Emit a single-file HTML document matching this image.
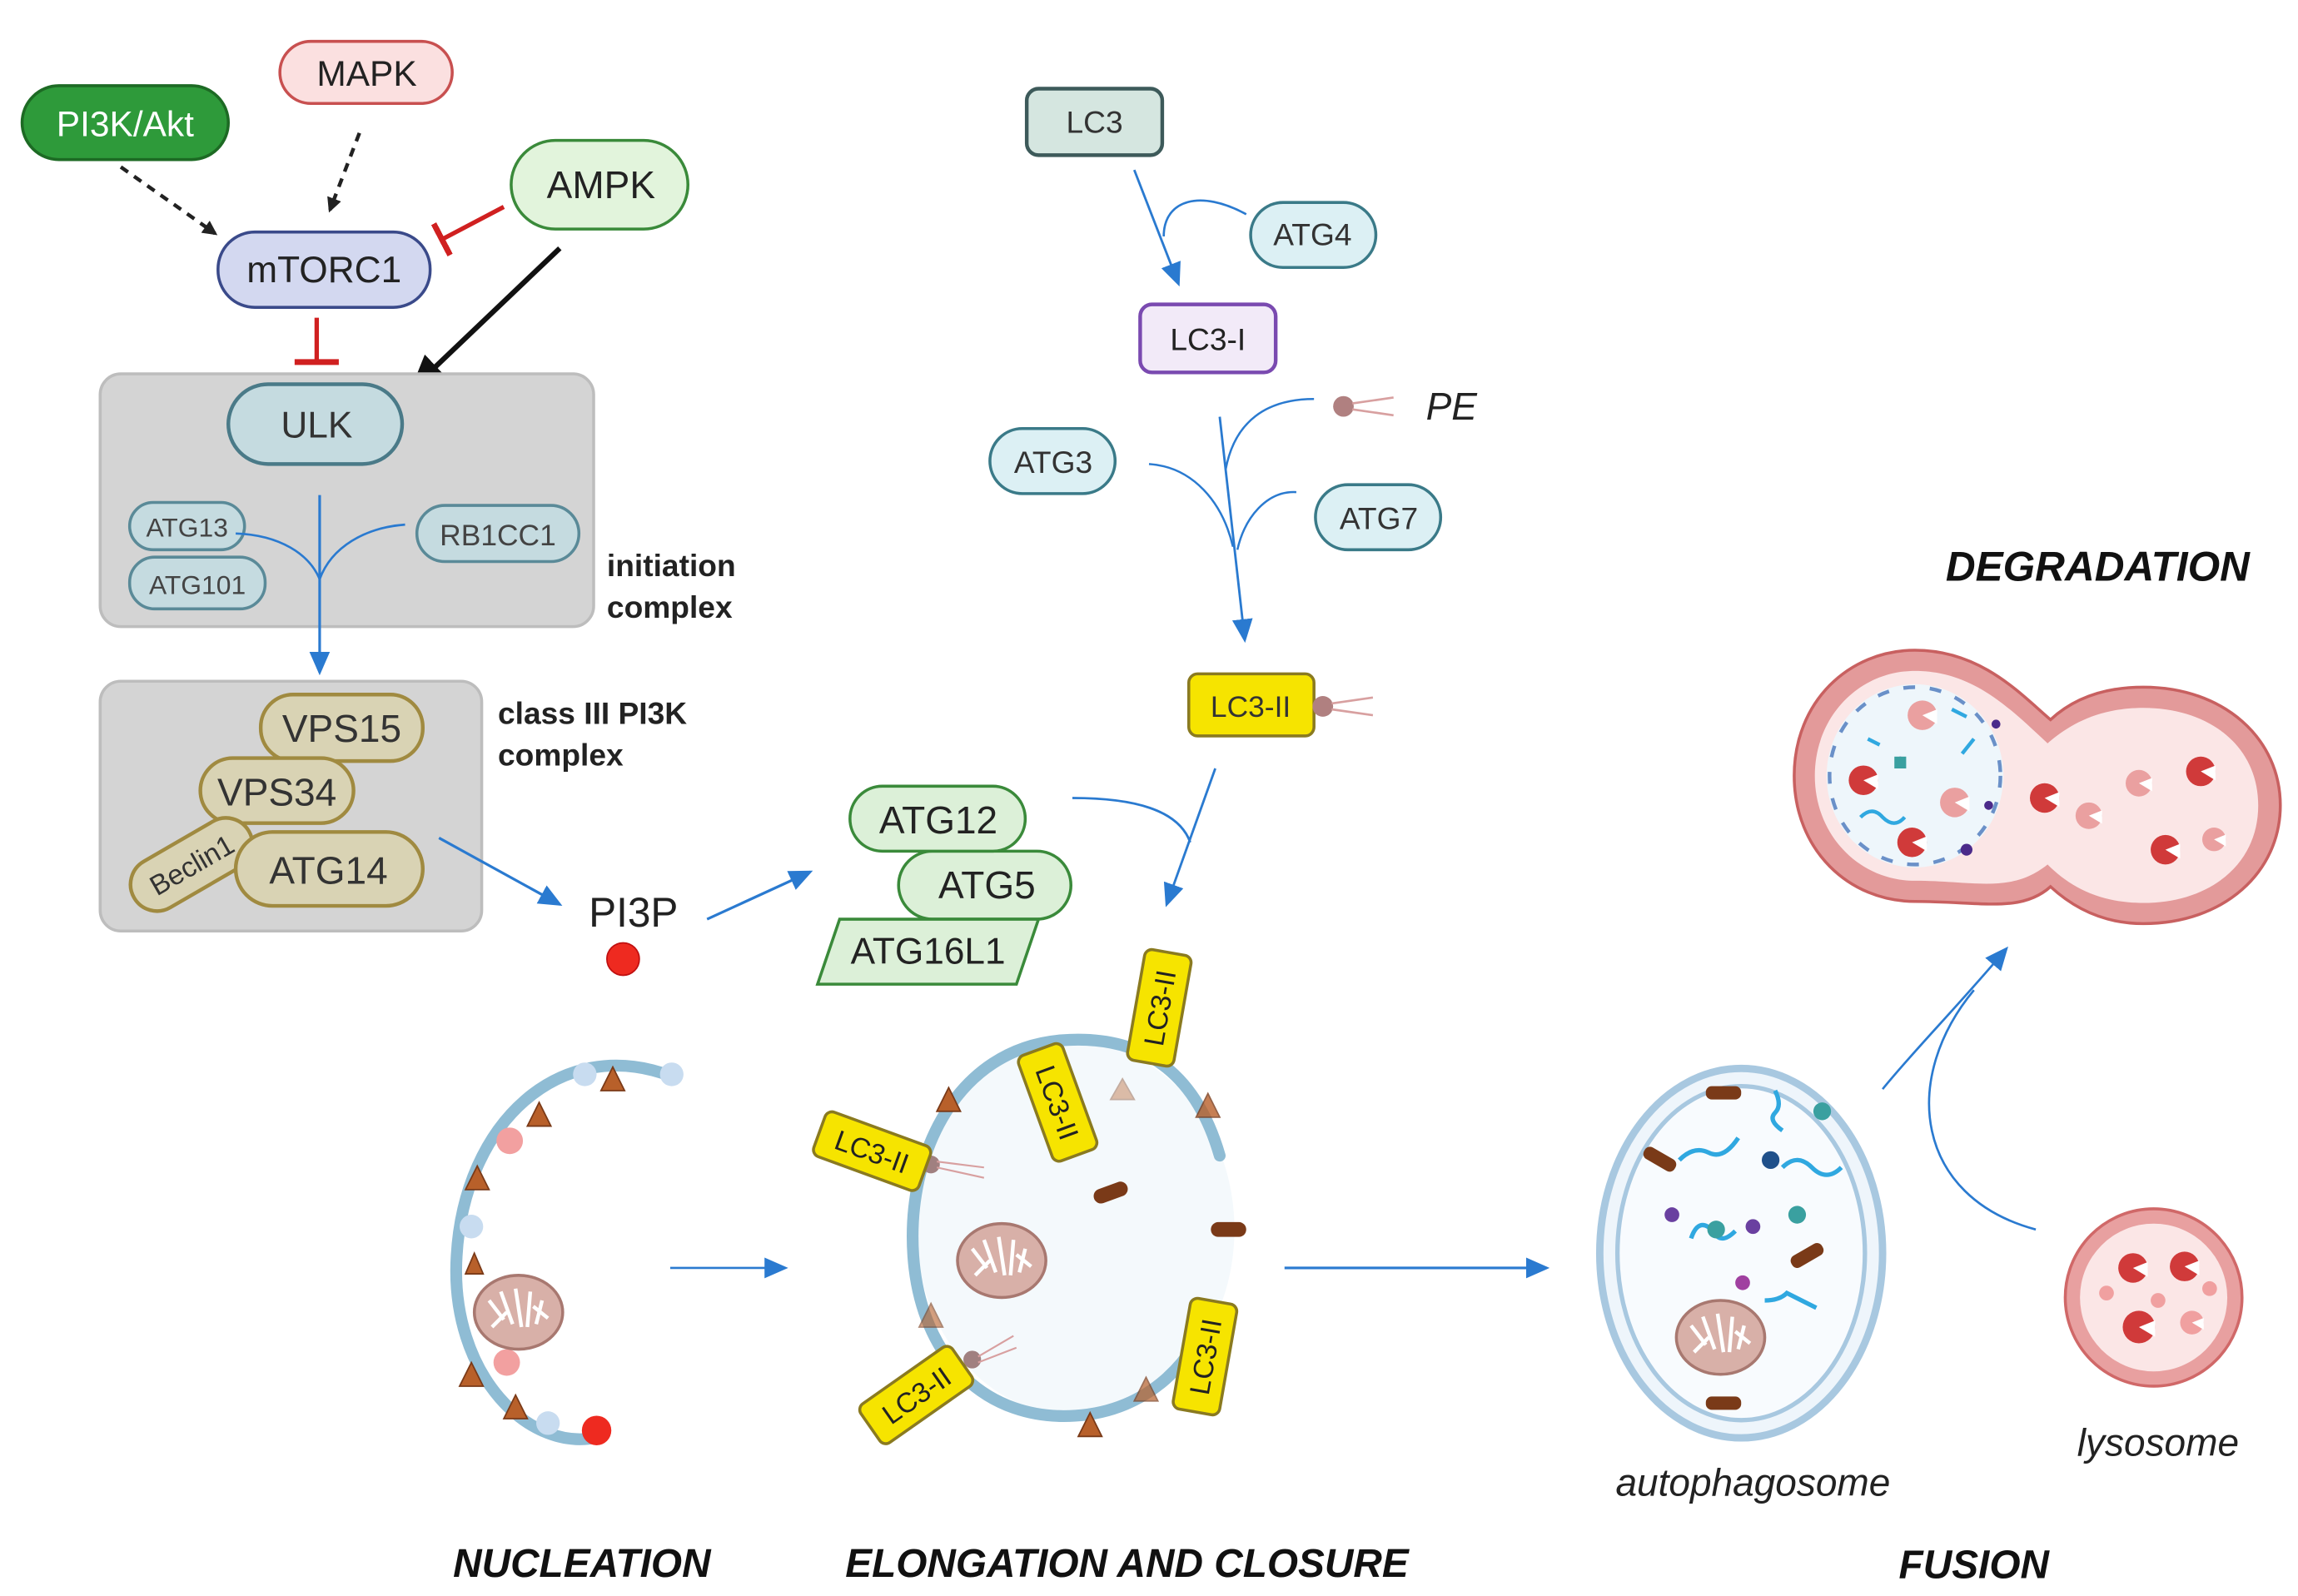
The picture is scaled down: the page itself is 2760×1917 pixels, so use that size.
<!DOCTYPE html>
<html><head><meta charset="utf-8">
<style>
html,body{margin:0;padding:0;background:#fff;}
svg{display:block;}
text{font-family:"Liberation Sans",sans-serif;}
</style></head>
<body>
<svg width="2760" height="1917" viewBox="0 0 1560 1080" preserveAspectRatio="none" xmlns="http://www.w3.org/2000/svg">
<defs>
<marker id="bk" markerWidth="10" markerHeight="10" refX="8" refY="5" orient="auto" markerUnits="userSpaceOnUse"><path d="M0,0 L10,5 L0,10z" fill="#222"/></marker>
<marker id="bkb" markerWidth="26" markerHeight="22" refX="22" refY="11" orient="auto" markerUnits="userSpaceOnUse"><path d="M0,0 L24,11 L0,22z" fill="#111"/></marker>
<marker id="bl" markerWidth="16" markerHeight="14" refX="14" refY="7" orient="auto" markerUnits="userSpaceOnUse"><path d="M0,0 L16,7 L0,14z" fill="#2a7ad0"/></marker>
<marker id="tb" markerWidth="4" markerHeight="24" refX="2" refY="12" orient="auto" markerUnits="userSpaceOnUse"><rect x="0" y="0" width="4" height="24" fill="#d02020"/></marker>
<g id="mito"><ellipse cx="0" cy="0" rx="30" ry="25" fill="#d8b0a8" stroke="#a87870" stroke-width="2"/><path d="M-20,-8 L-10,5 M-12,-14 L-4,8 M-2,-16 L2,10 M8,-14 L6,10 M16,-8 L12,8 M-18,10 L-8,0 M20,4 L10,-4" stroke="#fff" stroke-width="2.5"/></g>
<g id="enz"><circle r="10"/><path d="M0,0 L10,-4 L10,6z" fill="#fff"/></g>
</defs>

<rect x="190" y="28" width="117" height="42" rx="21" fill="#fbe0e0" stroke="#c85050" stroke-width="2"/>
<text x="249" y="58" font-size="24" text-anchor="middle" fill="#222">MAPK</text>
<rect x="15" y="58" width="140" height="50" rx="25" fill="#2e9a3a" stroke="#1d6a24" stroke-width="2"/>
<text x="85" y="92" font-size="24" text-anchor="middle" fill="#fff">PI3K/Akt</text>
<rect x="347" y="95" width="120" height="60" rx="30" fill="#e2f4dc" stroke="#3a8a3a" stroke-width="2"/>
<text x="408" y="134" font-size="26" text-anchor="middle" fill="#222">AMPK</text>
<rect x="148" y="157" width="144" height="51" rx="25" fill="#d3d8f0" stroke="#3a4a8a" stroke-width="2"/>
<text x="220" y="191" font-size="25" text-anchor="middle" fill="#222">mTORC1</text>
<line x1="82" y1="113" x2="146" y2="158" stroke="#222" stroke-width="2.5" stroke-dasharray="6,5" marker-end="url(#bk)"/>
<line x1="244" y1="90" x2="224" y2="142" stroke="#222" stroke-width="2.5" stroke-dasharray="6,5" marker-end="url(#bk)"/>
<line x1="342" y1="140" x2="300" y2="162" stroke="#d02020" stroke-width="3" marker-end="url(#tb)"/>
<line x1="215" y1="215" x2="215" y2="245" stroke="#d02020" stroke-width="3"/>
<line x1="200" y1="245" x2="230" y2="245" stroke="#d02020" stroke-width="4"/>
<line x1="380" y1="168" x2="280" y2="263" stroke="#111" stroke-width="3.5" marker-end="url(#bkb)"/>

<rect x="68" y="253" width="335" height="171" rx="14" fill="#d4d4d4" stroke="#bdbdbd" stroke-width="2"/>
<rect x="155" y="260" width="118" height="54" rx="27" fill="#c5dbe0" stroke="#4a7a88" stroke-width="2.5"/>
<text x="215" y="296" font-size="25" text-anchor="middle" fill="#333">ULK</text>
<rect x="88" y="340" width="78" height="32" rx="16" fill="#c5dbe0" stroke="#5a8a98" stroke-width="2"/>
<text x="127" y="363" font-size="18" text-anchor="middle" fill="#444">ATG13</text>
<rect x="88" y="377" width="92" height="35" rx="17" fill="#c5dbe0" stroke="#5a8a98" stroke-width="2"/>
<text x="134" y="402" font-size="18" text-anchor="middle" fill="#444">ATG101</text>
<rect x="283" y="342" width="110" height="38" rx="19" fill="#c5dbe0" stroke="#5a8a98" stroke-width="2"/>
<text x="338" y="369" font-size="20" text-anchor="middle" fill="#444">RB1CC1</text>
<line x1="217" y1="335" x2="217" y2="455" stroke="#2a7ad0" stroke-width="1.8" marker-end="url(#bl)"/>
<path d="M160,361 C190,362 210,375 217,392" fill="none" stroke="#2a7ad0" stroke-width="1.5"/>
<path d="M275,355 C248,357 225,370 217,392" fill="none" stroke="#2a7ad0" stroke-width="1.5"/>
<text x="412" y="390" font-size="21" font-weight="bold" fill="#222">initiation</text>
<text x="412" y="418" font-size="21" font-weight="bold" fill="#222">complex</text>

<rect x="68" y="461" width="259" height="169" rx="14" fill="#d4d4d4" stroke="#bdbdbd" stroke-width="2"/>
<rect x="177" y="470" width="110" height="45" rx="22" fill="#d9d3b4" stroke="#a08a40" stroke-width="2.5"/>
<text x="232" y="502" font-size="26" text-anchor="middle" fill="#333">VPS15</text>
<rect x="136" y="513" width="104" height="44" rx="22" fill="#d9d3b4" stroke="#a08a40" stroke-width="2.5"/>
<text x="188" y="545" font-size="26" text-anchor="middle" fill="#333">VPS34</text>
<g transform="translate(130,585) rotate(-30)">
<rect x="-45" y="-18" width="90" height="36" rx="18" fill="#d9d3b4" stroke="#a08a40" stroke-width="2.5"/>
<text x="0" y="7" font-size="19" text-anchor="middle" fill="#333">Beclin1</text></g>
<rect x="160" y="563" width="127" height="50" rx="25" fill="#d9d3b4" stroke="#a08a40" stroke-width="2.5"/>
<text x="223" y="598" font-size="26" text-anchor="middle" fill="#333">ATG14</text>
<text x="338" y="490" font-size="21" font-weight="bold" fill="#222">class III PI3K</text>
<text x="338" y="518" font-size="21" font-weight="bold" fill="#222">complex</text>

<line x1="298" y1="567" x2="380" y2="612" stroke="#2a7ad0" stroke-width="1.8" marker-end="url(#bl)"/>
<text x="430" y="627" font-size="28" text-anchor="middle" fill="#222">PI3P</text>
<circle cx="423" cy="649" r="11" fill="#ee2a20" stroke="#c01010" stroke-width="1"/>
<line x1="480" y1="622" x2="550" y2="590" stroke="#2a7ad0" stroke-width="1.8" marker-end="url(#bl)"/>

<rect x="610" y="576" width="117" height="46" rx="23" fill="#dcf0d8" stroke="#3a8a3a" stroke-width="2"/>
<rect x="577" y="532" width="119" height="44" rx="22" fill="#dcf0d8" stroke="#3a8a3a" stroke-width="2"/>
<text x="637" y="564" font-size="26" text-anchor="middle" fill="#222">ATG12</text>
<text x="670" y="608" font-size="26" text-anchor="middle" fill="#222">ATG5</text>
<polygon points="570,622 705,622 690,666 555,666" fill="#dcf0d8" stroke="#3a8a3a" stroke-width="2"/>
<text x="630" y="652" font-size="25" text-anchor="middle" fill="#222">ATG16L1</text>
<path d="M728,540 C770,540 800,548 808,570" fill="none" stroke="#2a7ad0" stroke-width="1.6"/>
<line x1="825" y1="520" x2="792" y2="612" stroke="#2a7ad0" stroke-width="1.6" marker-end="url(#bl)"/>

<rect x="697" y="60" width="92" height="45" rx="8" fill="#d5e6e0" stroke="#3d5a5a" stroke-width="2.5"/>
<text x="743" y="90" font-size="21" text-anchor="middle" fill="#333">LC3</text>
<line x1="770" y1="115" x2="800" y2="192" stroke="#2a7ad0" stroke-width="1.6" marker-end="url(#bl)"/>
<path d="M846,145 C815,128 790,135 790,160" fill="none" stroke="#2a7ad0" stroke-width="1.5"/>
<rect x="849" y="137" width="85" height="44" rx="22" fill="#dcf0f4" stroke="#3a7a88" stroke-width="2"/>
<text x="891" y="166" font-size="21" text-anchor="middle" fill="#333">ATG4</text>
<rect x="774" y="206" width="92" height="46" rx="8" fill="#f2eaf8" stroke="#7a4ab0" stroke-width="2.5"/>
<text x="820" y="237" font-size="21" text-anchor="middle" fill="#222">LC3-I</text>
<circle cx="912" cy="275" r="7" fill="#b08080"/>
<path d="M918,273 L946,269 M918,277 L946,281" stroke="#d8a0a0" stroke-width="1.5"/>
<text x="968" y="284" font-size="26" font-style="italic" fill="#222">PE</text>
<rect x="672" y="290" width="85" height="44" rx="22" fill="#dcf0f4" stroke="#3a7a88" stroke-width="2"/>
<text x="715" y="320" font-size="21" text-anchor="middle" fill="#333">ATG3</text>
<rect x="893" y="328" width="85" height="44" rx="22" fill="#dcf0f4" stroke="#3a7a88" stroke-width="2"/>
<text x="936" y="358" font-size="21" text-anchor="middle" fill="#333">ATG7</text>
<path d="M828,282 L845,433" fill="none" stroke="#2a7ad0" stroke-width="1.6" marker-end="url(#bl)"/>
<path d="M892,270 C860,270 838,285 832,318" fill="none" stroke="#2a7ad0" stroke-width="1.4"/>
<path d="M780,314 C810,316 830,340 837,370" fill="none" stroke="#2a7ad0" stroke-width="1.4"/>
<path d="M880,333 C860,332 845,350 840,372" fill="none" stroke="#2a7ad0" stroke-width="1.4"/>
<rect x="807" y="456" width="85" height="42" rx="6" fill="#f6e400" stroke="#8a7a20" stroke-width="2"/>
<text x="849" y="485" font-size="20" text-anchor="middle" fill="#333">LC3-II</text>
<circle cx="898" cy="478" r="7" fill="#b08080"/>
<path d="M904,476 L932,472 M904,480 L932,484" stroke="#d8a0a0" stroke-width="1.5"/>

<!-- nucleation -->
<path d="M455,728 C380,700 315,760 310,850 C305,930 360,985 408,972" fill="none" stroke="#8fbcd4" stroke-width="8" stroke-linecap="round"/>
<g fill="#b8602a" stroke="#7a3a18" stroke-width="1">
<polygon points="408,738 416,722 424,738"/><polygon points="358,762 366,746 374,762"/><polygon points="316,805 324,789 332,805"/><polygon points="312,938 320,922 328,938"/><polygon points="342,960 350,944 358,960"/><polygon points="316,862 322,848 328,862"/>
</g>
<circle cx="346" cy="772" r="9" fill="#f2a0a0"/><circle cx="344" cy="922" r="9" fill="#f2a0a0"/>
<circle cx="320" cy="830" r="8" fill="#c8dcf0"/><circle cx="397" cy="727" r="8" fill="#c8dcf0"/><circle cx="456" cy="727" r="8" fill="#c8dcf0"/><circle cx="372" cy="963" r="8" fill="#c8dcf0"/>
<circle cx="405" cy="968" r="10" fill="#ee2a20"/>
<use href="#mito" transform="translate(352,888)"/>
<line x1="455" y1="858" x2="533" y2="858" stroke="#2a7ad0" stroke-width="1.5" marker-end="url(#bl)"/>

<!-- elongation -->
<ellipse cx="730" cy="832" rx="108" ry="126" fill="#f4f9fc"/>
<path d="M828,782 C810,720 770,700 720,704 C650,710 615,780 620,850 C625,920 670,962 730,958 C780,955 812,920 822,885" fill="none" stroke="#8fbcd4" stroke-width="8" stroke-linecap="round"/>
<use href="#mito" transform="translate(680,853)"/>
<rect x="742" y="802" width="24" height="10" rx="5" fill="#7a3a18" transform="rotate(-20 754 807)"/>
<rect x="822" y="827" width="24" height="10" rx="5" fill="#7a3a18"/>
<g fill="#b8602a" stroke="#7a3a18" stroke-width="1">
<polygon points="636,752 644,736 652,752"/><polygon points="812,756 820,740 828,756" opacity="0.8"/><polygon points="624,898 632,882 640,898" opacity="0.6"/><polygon points="732,972 740,956 748,972"/><polygon points="770,948 778,932 786,948" opacity="0.7"/><polygon points="754,744 762,730 770,744" opacity="0.4"/>
</g>
<circle cx="660" cy="920" r="6" fill="#a08080"/><circle cx="632" cy="788" r="6" fill="#a08080"/>
<path d="M636,786 L668,790 M636,790 L668,797 M664,918 L688,904 M664,922 L690,912" stroke="#d8a0a0" stroke-width="1.2"/>
<g font-size="19" fill="#222">
<g transform="translate(592,779) rotate(20)"><rect x="-38" y="-16" width="76" height="32" rx="5" fill="#f6e400" stroke="#8a7a20" stroke-width="2"/><text x="0" y="7" text-anchor="middle">LC3-II</text></g>
<g transform="translate(718,746) rotate(70)"><rect x="-38" y="-16" width="76" height="32" rx="5" fill="#f6e400" stroke="#8a7a20" stroke-width="2"/><text x="0" y="7" text-anchor="middle">LC3-II</text></g>
<g transform="translate(787,682) rotate(-80)"><rect x="-38" y="-16" width="76" height="32" rx="5" fill="#f6e400" stroke="#8a7a20" stroke-width="2"/><text x="0" y="7" text-anchor="middle">LC3-II</text></g>
<g transform="translate(818,918) rotate(-80)"><rect x="-38" y="-16" width="76" height="32" rx="5" fill="#f6e400" stroke="#8a7a20" stroke-width="2"/><text x="0" y="7" text-anchor="middle">LC3-II</text></g>
<g transform="translate(622,944) rotate(-35)"><rect x="-38" y="-16" width="76" height="32" rx="5" fill="#f6e400" stroke="#8a7a20" stroke-width="2"/><text x="0" y="7" text-anchor="middle">LC3-II</text></g>
</g>
<line x1="872" y1="858" x2="1050" y2="858" stroke="#2a7ad0" stroke-width="1.8" marker-end="url(#bl)"/>

<!-- autophagosome -->
<ellipse cx="1182" cy="848" rx="96" ry="125" fill="#eef5fb" stroke="#a8c8e0" stroke-width="5"/>
<ellipse cx="1182" cy="848" rx="84" ry="113" fill="#f8fbfe" stroke="#a8c8e0" stroke-width="3"/>
<use href="#mito" transform="translate(1168,905)"/>
<g fill="#7a3a18"><rect x="1158" y="735" width="24" height="9" rx="4"/><rect x="1115" y="780" width="24" height="9" rx="4" transform="rotate(30 1127 784)"/><rect x="1215" y="845" width="24" height="9" rx="4" transform="rotate(-30 1227 850)"/><rect x="1158" y="945" width="24" height="9" rx="4"/></g>
<g fill="none" stroke="#30a8e0" stroke-width="3"><path d="M1205,738 q5,10 0,15 q-5,5 5,12"/><path d="M1140,785 q10,-10 20,-5 q10,5 20,-10"/><path d="M1210,790 q10,-10 20,0 q10,10 20,0"/><path d="M1148,838 q5,-15 15,-5 q5,10 15,0"/><path d="M1198,880 q10,0 15,-5 q10,5 20,10"/></g>
<g><circle cx="1237" cy="752" r="6" fill="#3aa0a0"/><circle cx="1165" cy="832" r="6" fill="#3aa0a0"/><circle cx="1220" cy="822" r="6" fill="#3aa0a0"/><circle cx="1202" cy="785" r="6" fill="#20508a"/><circle cx="1135" cy="822" r="5" fill="#6a40a0"/><circle cx="1190" cy="830" r="5" fill="#6a40a0"/><circle cx="1183" cy="868" r="5" fill="#a040a0"/></g>
<text x="1190" y="1012" font-size="26" font-style="italic" text-anchor="middle" fill="#222">autophagosome</text>

<path d="M1278,737 C1300,710 1330,680 1362,642" fill="none" stroke="#2a7ad0" stroke-width="1.5" marker-end="url(#bl)"/>
<path d="M1382,832 C1300,810 1290,730 1340,670" fill="none" stroke="#2a7ad0" stroke-width="1.5"/>

<circle cx="1462" cy="878" r="60" fill="#e8a0a0" stroke="#d06868" stroke-width="2"/>
<circle cx="1462" cy="878" r="50" fill="#fbe6e6"/>
<g fill="#d03a3a"><use href="#enz" transform="translate(1448,858)"/><use href="#enz" transform="translate(1483,857)"/><use href="#enz" transform="translate(1452,898) scale(1.1)"/></g>
<g fill="#f0a0a0"><use href="#enz" transform="translate(1488,895) scale(0.8)"/><circle cx="1430" cy="875" r="5"/><circle cx="1465" cy="880" r="5"/><circle cx="1500" cy="872" r="5"/></g>
<text x="1465" y="985" font-size="26" font-style="italic" text-anchor="middle" fill="#222">lysosome</text>

<path d="M1300,440 C1345,440 1372,470 1392,487 C1405,475 1425,465 1455,465 C1510,465 1548,500 1548,545 C1548,590 1510,625 1455,625 C1425,625 1405,612 1392,600 C1372,618 1345,610 1300,610 C1255,610 1218,575 1218,525 C1218,475 1255,440 1300,440Z" fill="#e39a9a" stroke="#c86060" stroke-width="2"/>
<path d="M1300,454 C1340,454 1365,480 1390,503 C1405,490 1425,479 1455,479 C1500,479 1533,505 1533,545 C1533,585 1500,611 1455,611 C1425,611 1405,600 1390,585 C1365,605 1340,596 1300,596 C1262,596 1232,565 1232,525 C1232,485 1262,454 1300,454Z" fill="#fbe6e6"/>
<ellipse cx="1300" cy="525" rx="60" ry="62" fill="#eef6fb"/>
<ellipse cx="1300" cy="525" rx="58" ry="60" fill="none" stroke="#6a90c8" stroke-width="2.5" stroke-dasharray="8,10"/>
<g fill="#d03a3a"><use href="#enz" transform="translate(1265,528)"/><use href="#enz" transform="translate(1298,570)"/><use href="#enz" transform="translate(1388,540)"/><use href="#enz" transform="translate(1494,522)"/><use href="#enz" transform="translate(1470,575)"/></g>
<g fill="#eaa0a0"><use href="#enz" transform="translate(1305,484)"/><use href="#enz" transform="translate(1327,543)"/><use href="#enz" transform="translate(1418,552) scale(0.9)"/><use href="#enz" transform="translate(1452,530) scale(0.9)"/><use href="#enz" transform="translate(1503,568) scale(0.8)"/></g>
<g fill="none" stroke="#30a8e0" stroke-width="2.5"><path d="M1263,553 q8,-8 15,0 q8,8 15,0"/><path d="M1325,480 l10,5"/><path d="M1332,510 l8,-10"/><path d="M1268,500 l8,4"/></g>
<g fill="#4a2a8a"><circle cx="1290" cy="515" r="3"/><circle cx="1335" cy="575" r="4"/><circle cx="1350" cy="545" r="3"/><circle cx="1355" cy="490" r="3"/></g>
<rect x="1286" y="512" width="8" height="8" fill="#3aa0a0"/>
<text x="1424" y="393" font-size="28" font-style="italic" font-weight="bold" text-anchor="middle" fill="#111">DEGRADATION</text>

<g font-size="27" font-style="italic" font-weight="bold" fill="#111" text-anchor="middle">
<text x="395" y="1067">NUCLEATION</text>
<text x="765" y="1067">ELONGATION AND CLOSURE</text>
<text x="1340" y="1068">FUSION</text>
</g>
</svg>
</body></html>
